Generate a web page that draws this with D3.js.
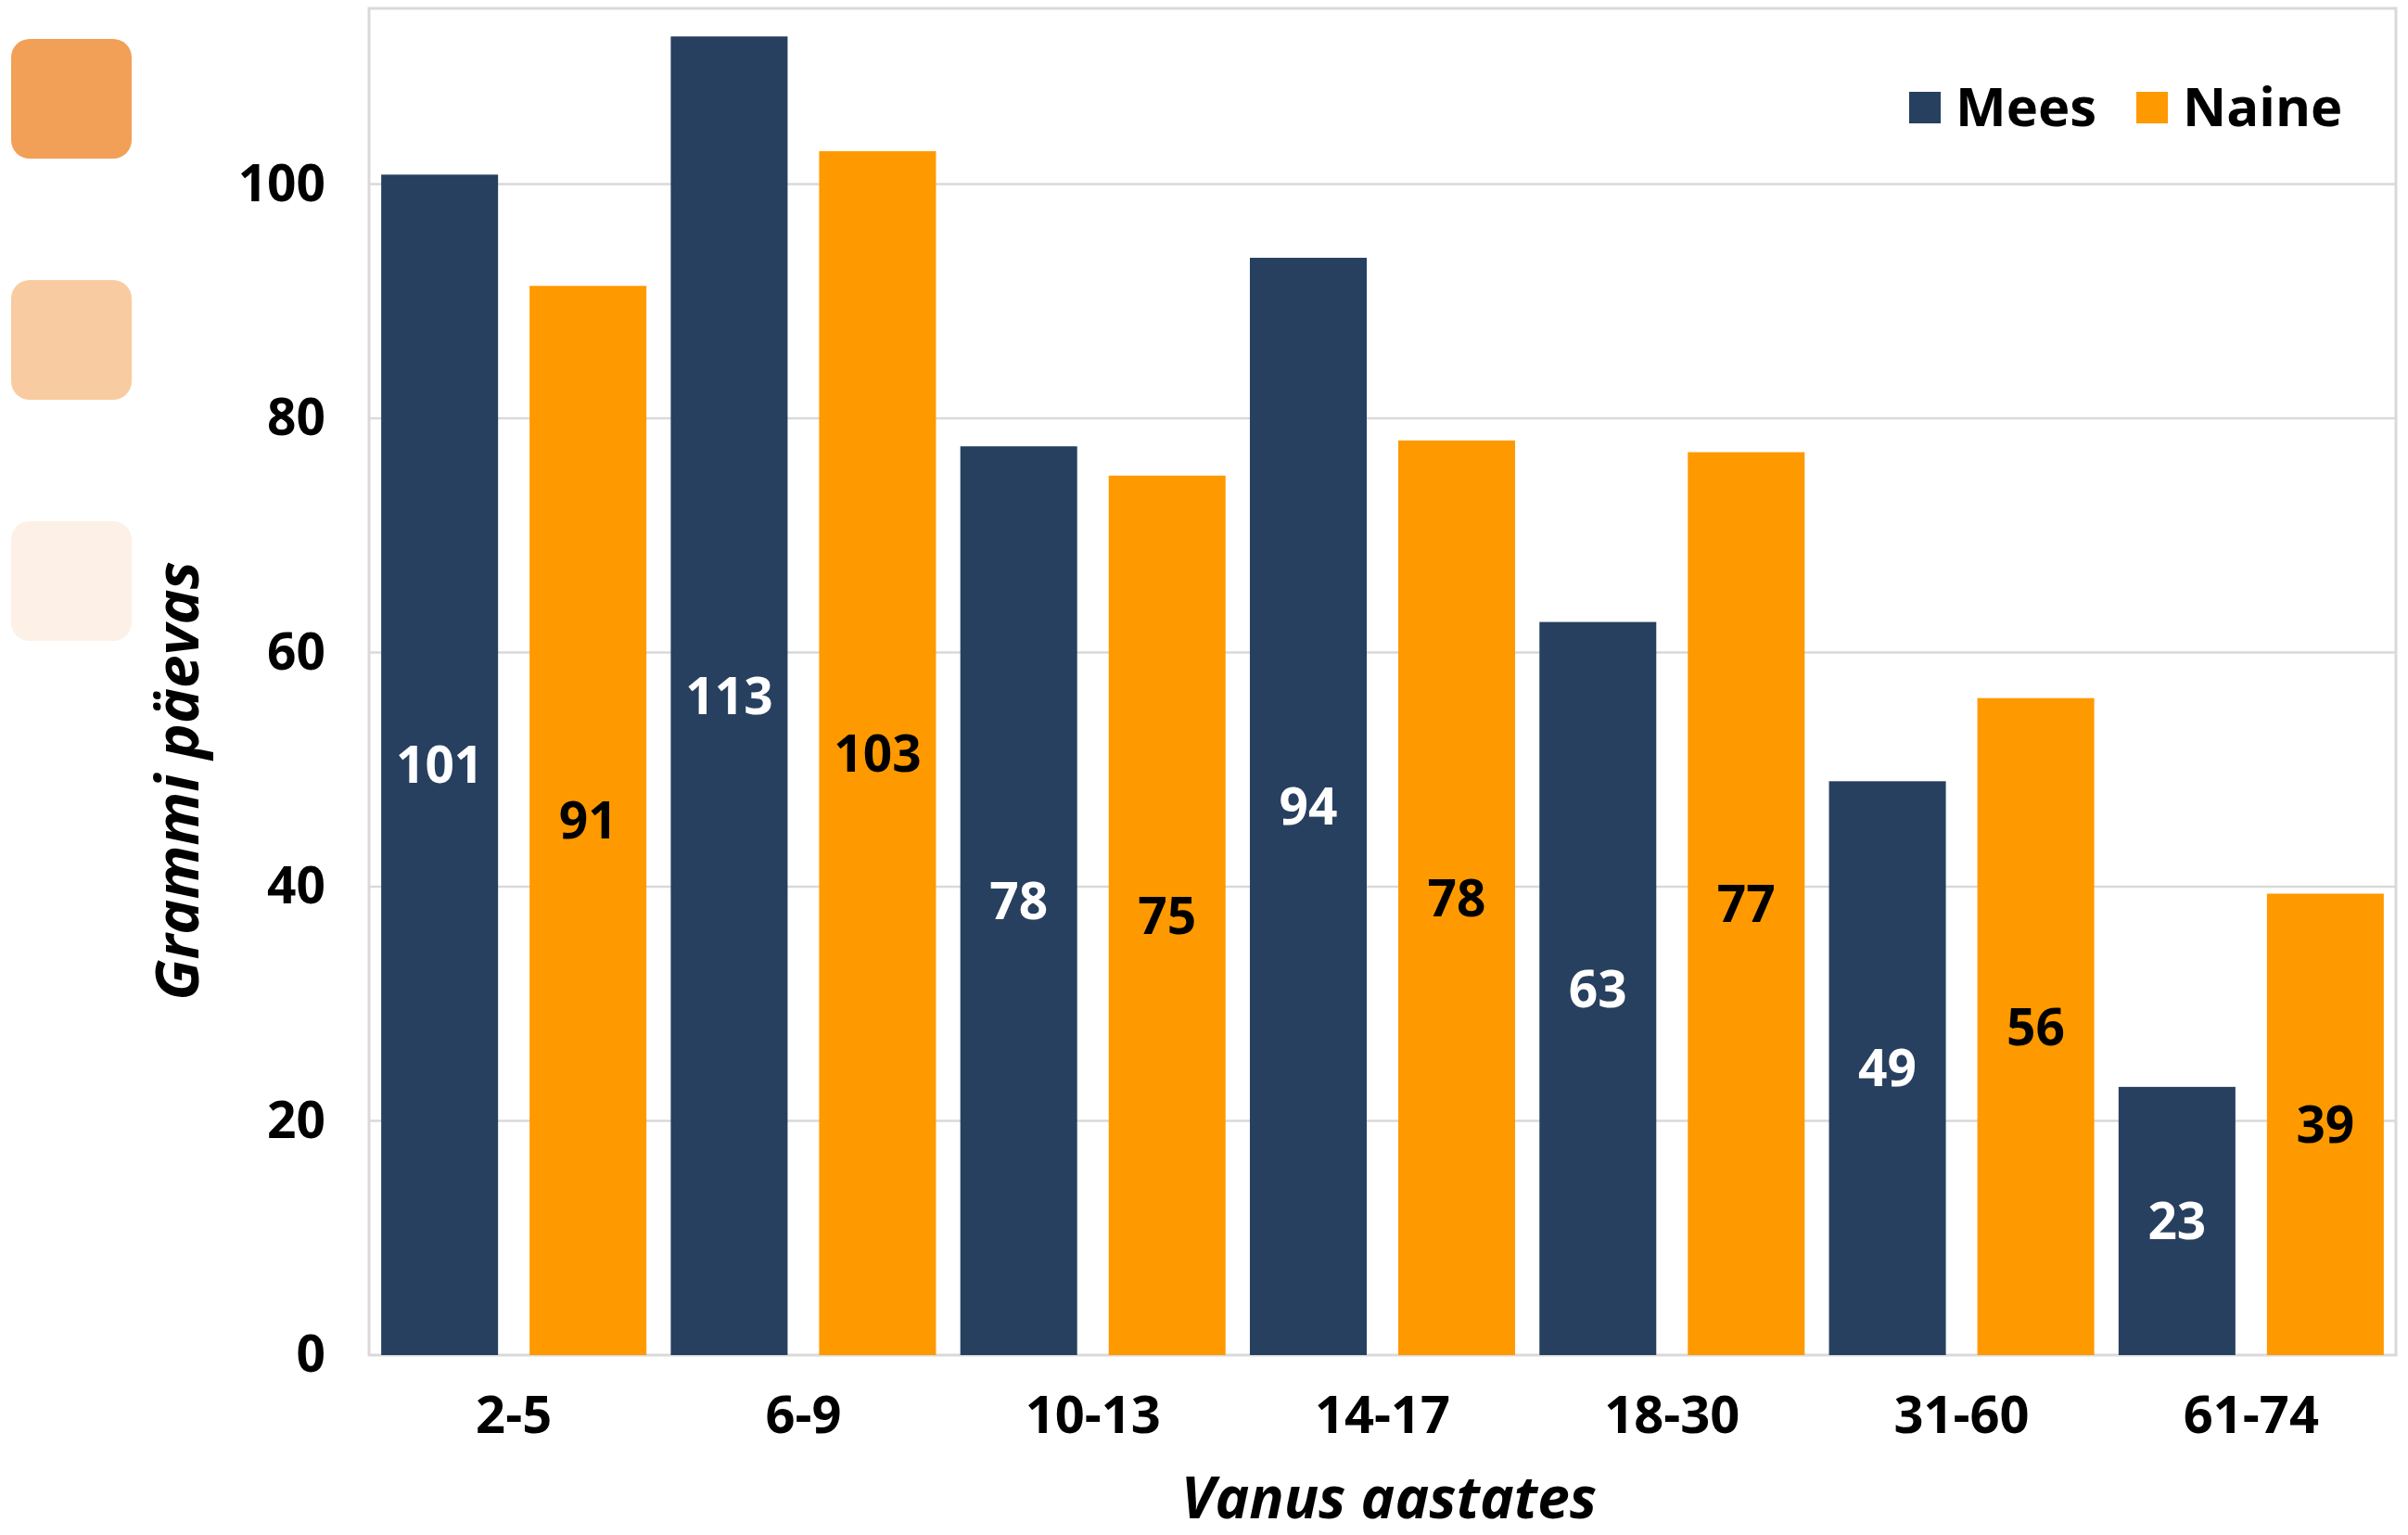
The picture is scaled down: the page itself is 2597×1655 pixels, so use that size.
<!DOCTYPE html>
<html>
<head>
<meta charset="utf-8">
<script src="https://cdn.jsdelivr.net/npm/d3@7"></script>
<style>
  html, body { margin: 0; padding: 0; background: #ffffff; }
  svg { display: block; }
  text { font-family: "Open Sans", "Liberation Sans", sans-serif; }
</style>
</head>
<body>
<svg id="chart" width="2597" height="1655"></svg>
<script>
// ---- data ----
const categories = ["2-5", "6-9", "10-13", "14-17", "18-30", "31-60", "61-74"];
const seriesNames = ["Mees", "Naine"];
const meesValues  = [100.8, 112.6, 77.6, 93.7, 62.6, 49.0, 22.9];
const naineValues = [91.3, 102.8, 75.1, 78.1, 77.1, 56.1, 39.4];
const yTicks = [0, 20, 40, 60, 80, 100];
const yTitle = "Grammi päevas";
const xTitle = "Vanus aastates";
const seriesColors = ["#27405f", "#ff9900"];
const labelColors = ["#ffffff", "#000000"];
const decoColors = ["#f2a057", "#f9cba1", "#fdf0e6"];

// ---- layout ----
const W = 2597, H = 1655;
const plot = { left: 398, right: 2584, top: 9, bottom: 1461 };
const svg = d3.select("#chart");

const x0 = d3.scaleBand().domain(categories).range([plot.left, plot.right]).padding(0);
const x1 = d3.scaleBand().domain(seriesNames).range([0, x0.bandwidth()])
  .paddingInner(0.2125).paddingOuter(0.082);
const y = d3.scaleLinear().domain([0, 115]).range([plot.bottom, plot.top]);

// decorative rounded squares at top-left
svg.append("g").selectAll("rect").data(decoColors).join("rect")
  .attr("x", 12).attr("y", (d, i) => 42 + i * 260)
  .attr("width", 130).attr("height", 129)
  .attr("rx", 20).attr("ry", 20)
  .attr("fill", d => d);

// gridlines
svg.append("g").selectAll("line").data(yTicks.filter(t => t > 0)).join("line")
  .attr("x1", plot.left).attr("x2", plot.right)
  .attr("y1", d => y(d)).attr("y2", d => y(d))
  .attr("stroke", "#d9d9d9").attr("stroke-width", 2.5);

// plot border
svg.append("rect")
  .attr("x", plot.left).attr("y", plot.top)
  .attr("width", plot.right - plot.left).attr("height", plot.bottom - plot.top)
  .attr("fill", "none").attr("stroke", "#d9d9d9").attr("stroke-width", 3);

// bars
const rows = categories.map((c, i) => ({ cat: c, vals: [meesValues[i], naineValues[i]] }));
const groups = svg.append("g").selectAll("g").data(rows).join("g")
  .attr("transform", d => `translate(${x0(d.cat)},0)`);

groups.selectAll("rect").data(d => d.vals.map((v, j) => ({ s: seriesNames[j], j, v }))).join("rect")
  .attr("x", d => x1(d.s))
  .attr("y", d => y(d.v))
  .attr("width", x1.bandwidth())
  .attr("height", d => y(0) - y(d.v))
  .attr("fill", d => seriesColors[d.j]);

groups.selectAll("text").data(d => d.vals.map((v, j) => ({ s: seriesNames[j], j, v }))).join("text")
  .attr("x", d => x1(d.s) + x1.bandwidth() / 2)
  .attr("y", d => (y(d.v) + y(0)) / 2)
  .attr("dy", "0.36em")
  .attr("text-anchor", "middle")
  .attr("font-size", 55)
  .attr("font-weight", 700)
  .attr("fill", d => labelColors[d.j])
  .text(d => d3.format(".0f")(d.v));

// y axis (labels only)
const yAxis = d3.axisLeft(y).tickValues(yTicks).tickSize(0).tickPadding(47);
const gy = svg.append("g").attr("transform", `translate(${plot.left},0)`).call(yAxis);
gy.select(".domain").remove();
gy.selectAll("text")
  .attr("font-family", "'Open Sans', sans-serif")
  .attr("font-size", 55).attr("font-weight", 700).attr("fill", "#000");

// x axis (labels only)
const xAxis = d3.axisBottom(x0).tickSize(0).tickPadding(44);
const gx = svg.append("g").attr("transform", `translate(0,${plot.bottom})`).call(xAxis);
gx.select(".domain").remove();
gx.selectAll("text")
  .attr("font-family", "'Open Sans', sans-serif")
  .attr("font-size", 56).attr("font-weight", 700).attr("fill", "#000");

// axis titles
svg.append("text")
  .attr("x", (plot.left + plot.right) / 2 + 7).attr("y", 1637)
  .attr("text-anchor", "middle")
  .attr("font-size", 62).attr("font-weight", 700).attr("font-style", "italic")
  .attr("fill", "#000").text(xTitle);

svg.append("text")
  .attr("transform", "translate(214,842) rotate(-90)")
  .attr("text-anchor", "middle")
  .attr("font-size", 64).attr("font-weight", 700).attr("font-style", "italic")
  .attr("fill", "#000").text(yTitle);

// legend
const legendX = [2059, 2304];
const leg = svg.append("g").selectAll("g").data(seriesNames).join("g")
  .attr("transform", (d, i) => `translate(${legendX[i]},99)`);
leg.append("rect").attr("width", 34).attr("height", 34)
  .attr("fill", (d, i) => seriesColors[i]);
leg.append("text").attr("x", 50).attr("y", 37)
  .attr("font-size", 58).attr("font-weight", 700).attr("fill", "#000")
  .text(d => d);
</script>
</body>
</html>
